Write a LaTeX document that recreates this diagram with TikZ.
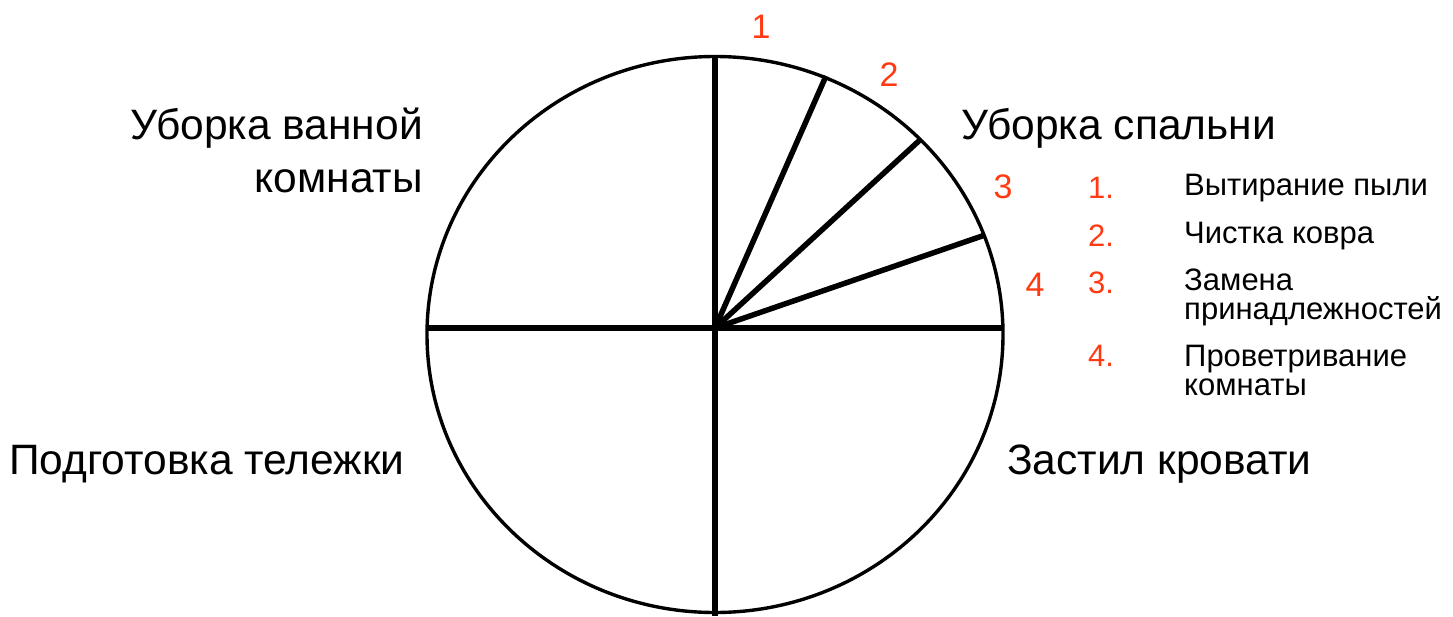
\documentclass[tikz,border=0pt]{standalone}
\usepackage{fontspec}
\setmainfont{Liberation Sans}
\definecolor{numred}{HTML}{FF3A12}
\begin{document}
\begin{tikzpicture}[x=1pt,y=-1pt,
  big/.style={font=\fontsize{42.5}{47}\selectfont, inner sep=0pt},
  num/.style={font=\fontsize{34}{36}\selectfont, text=numred, inner sep=0pt},
  leg/.style={font=\fontsize{31}{29}\selectfont, inner sep=0pt, align=left, anchor=west},
  legnum/.style={font=\fontsize{31}{29}\selectfont, text=numred, inner sep=0pt, anchor=west},
  rim/.style={line width=3.4pt},
  spoke/.style={line width=5.5pt}]
\useasboundingbox (0,0) rectangle (1453,616);
\fill[white] (0,0) rectangle (1453,616);
% circle
\draw[rim] (715,334.5) ellipse [x radius=288, y radius=278];
\coordinate (O) at (715,328);
\coordinate (T) at (715,57);
\coordinate (B) at (715,616);
\coordinate (L) at (428,328);
\coordinate (R) at (1002,328);
\coordinate (p1) at (826,76);
\coordinate (p2) at (921,139);
\coordinate (p3) at (985,235);
\draw[spoke] (T) -- (B);
\draw[spoke] (L) -- (R);
\draw[spoke] (O) -- (p1);
\draw[spoke] (O) -- (p2);
\draw[spoke] (O) -- (p3);
% red numbers
\node[num] (n1) at (761,27) {1};
\node[num] (n2) at (889,75) {2};
\node[num] (n3) at (1003,187) {3};
\node[num] (n4) at (1035,285) {4};
% main labels
\node[big, anchor=east] (bath1) at (423,128) {Уборка ванной};
\node[big, anchor=east] (bath2) at (423,181) {комнаты};
\node[big, anchor=west] (bed) at (961,128) {Уборка спальни};
\node[big, anchor=west] (cart) at (9,464) {Подготовка тележки};
\node[big, anchor=west] (make) at (1007,464) {Застил кровати};
% legend
\node[legnum] (l1n) at (1088,188) {1.};
\node[legnum] (l2n) at (1088,236) {2.};
\node[legnum] (l3n) at (1088,283) {3.};
\node[legnum] (l4n) at (1088,356) {4.};
\node[leg] (l1) at (1184,188) {Вытирание пыли};
\node[leg] (l2) at (1184,236) {Чистка ковра};
\node[leg] (l3) at (1184,297) {Замена\\принадлежностей};
\node[leg] (l4) at (1184,370) {Проветривание\\комнаты};
\end{tikzpicture}
\end{document}
